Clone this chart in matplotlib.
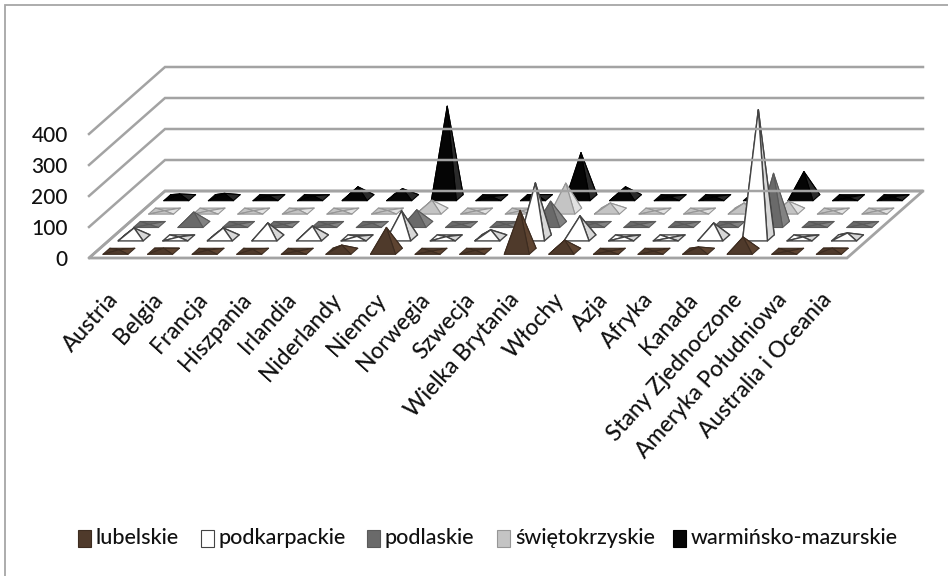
import matplotlib
matplotlib.use('Agg')
import matplotlib.pyplot as plt
from matplotlib.patches import Polygon, Rectangle

categories = ['Austria', 'Belgia', 'Francja', 'Hiszpania', 'Irlandia', 'Niderlandy', 'Niemcy',
              'Norwegia', 'Szwecja', 'Wielka Brytania', 'Włochy', 'Azja', 'Afryka', 'Kanada',
              'Stany Zjednoczone', 'Ameryka Południowa', 'Australia i Oceania']
series_names = ['lubelskie', 'podkarpackie', 'podlaskie', 'świętokrzyskie', 'warmińsko-mazurskie']
lubelskie = [5, 10, 4, 6, 0, 20, 77, 0, 3, 132, 36, 0, 0, 14, 46, 0, 10]
podkarpackie = [32, 3, 32, 48, 38, 5, 87, 4, 26, 177, 71, 3, 0, 48, 413, 3, 16]
podlaskie = [0, 40, 0, 0, 0, 4, 47, 0, 0, 75, 4, 0, 0, 4, 165, 0, 0]
swietokrzyskie = [1, 1, 1, 5, 1, 2, 35, 1, 1, 90, 26, 1, 1, 26, 32, 1, 1]
warminskie = [12, 14, 6, 6, 35, 29, 295, 3, 10, 145, 35, 3, 3, 12, 84, 0, 3]
y_ticks = [0, 100, 200, 300, 400]

series_values = [lubelskie, podkarpackie, podlaskie, swietokrzyskie, warminskie]
fills = ['#4f3a2b', '#ffffff', '#6a6a6a', '#c4c4c4', '#050505']
shades = ['#5e4431', '#d8d8d8', '#828282', '#e2e2e2', '#2a2a2a']
edges = ['#3d2c20', '#444444', '#5a5a5a', '#969696', '#000000']

# floor corners in pixels
floor_left = 89
floor_width = 758
floor_front = 258
depth_dx = 76
depth_dy = 67
px_per_unit = 0.31
grid_color = '#a3a3a3'
text_color = '#111111'

plt.rcParams['font.family'] = ['Lato', 'DejaVu Sans']
plt.rcParams['font.weight'] = 'medium'


def project(cat_pos, depth, value=0):
    # oblique projection, cat_pos in categories, depth 0..1
    x = floor_left + cat_pos / len(categories) * floor_width + depth * depth_dx
    y = floor_front - depth * depth_dy - value * px_per_unit
    return x, y


def draw_pyramid(ax, cat, row, value):
    half_w = 0.28
    half_d = 0.045
    depth = (row + 0.5) / len(series_names)
    fl = project(cat + 0.5 - half_w, depth - half_d)
    fr = project(cat + 0.5 + half_w, depth - half_d)
    br = project(cat + 0.5 + half_w, depth + half_d)
    bl = project(cat + 0.5 - half_w, depth + half_d)
    tip = project(cat + 0.5, depth, value)
    face, shade, edge = fills[row], shades[row], edges[row]
    lw = 1.0 if row == 1 else 0.8
    for pts, color in [([bl, br, tip], face), ([fl, bl, tip], face),
                       ([fr, br, tip], shade), ([fl, fr, tip], face)]:
        ax.add_patch(Polygon(pts, closed=True, fc=color, ec=edge, lw=lw, joinstyle='round'))


fig = plt.figure(figsize=(9.48, 5.76), dpi=100)
ax = fig.add_axes([0, 0, 1, 1])
ax.set_xlim(0, 948)
ax.set_ylim(576, 0)
ax.axis('off')

# the picture only keeps the left and top edge of the chart frame
ax.plot([5.5, 5.5, 948], [576, 4.5, 4.5], color='#a6a6a6', lw=1.3, solid_joinstyle='miter')

# floor and grid
ax.add_patch(Polygon([project(0, 0), project(len(categories), 0),
                      project(len(categories), 1), project(0, 1)],
                     closed=True, fc='white', ec=grid_color, lw=2))
for tick in y_ticks:
    x0, y0 = project(0, 0, tick)
    x1, y1 = project(0, 1, tick)
    x2, y2 = project(len(categories), 1, tick)
    ax.plot([x0, x1, x2], [y0, y1, y2], color=grid_color, lw=1.8, solid_joinstyle='miter')
    ax.text(68, y0 + 2, str(tick), ha='right', va='center', fontsize=15, color=text_color)

# back rows first so the front ones cover them
for row in range(len(series_names) - 1, -1, -1):
    for cat in range(len(categories)):
        draw_pyramid(ax, cat, row, series_values[row][cat])

for i, name in enumerate(categories):
    x, y = project(i + 0.5, 0)
    ax.text(x + 3, y + 38, name, rotation=48, rotation_mode='anchor', ha='right', va='center',
            fontsize=16.3, color=text_color)

legend_x = [78, 201, 367, 497, 673]
for name, x, face, edge in zip(series_names, legend_x, fills, edges):
    ax.add_patch(Rectangle((x, 530), 13, 17, fc=face, ec=edge, lw=0.8))
    ax.text(x + 18, 538, name, ha='left', va='center', fontsize=15.5, color=text_color)

fig.savefig('out.png', dpi=100)
